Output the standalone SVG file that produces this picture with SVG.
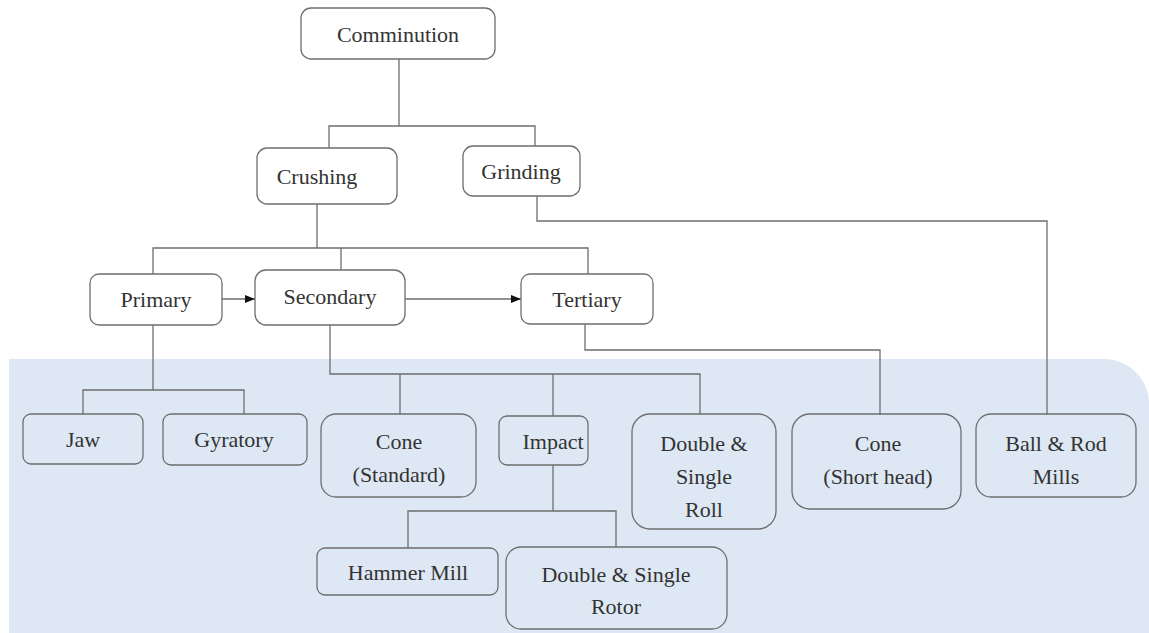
<svg xmlns="http://www.w3.org/2000/svg" width="1149" height="633" viewBox="0 0 1149 633">
<style>
.box{fill:#ffffff;stroke:#6e6e6e;stroke-width:1.3}
.lbox{fill:none;stroke:#6e6e6e;stroke-width:1.3}
.lbl{font-family:"Liberation Serif","DejaVu Serif",serif;font-size:22px;fill:#333333;text-anchor:middle}
.con{fill:none;stroke:#6e6e6e;stroke-width:1.3}
</style>
<defs>
<marker id="arr" viewBox="0 0 10 10" refX="10" refY="5" markerWidth="10" markerHeight="8" orient="auto" markerUnits="userSpaceOnUse" preserveAspectRatio="none">
<path d="M0,0 L10,5 L0,10 Z" fill="#111"/>
</marker>
</defs>
<rect width="1149" height="633" fill="#ffffff"/>
<path d="M9 359 H1104 A45 45 0 0 1 1149 404 V633 H9 Z" fill="#dee8f4"/>
<g id="connectors">
<path class="con" d="M399 59 V126 M329 148 V126 H535 V146"/>
<path class="con" d="M537 196 V221 H1047 V415"/>
<path class="con" d="M317 204 V248 M153 274 V248 H588 V274 M341 248 V270"/>
<path class="con" d="M222 299 H255" marker-end="url(#arr)"/>
<path class="con" d="M405 299 H521" marker-end="url(#arr)"/>
<path class="con" d="M585 324 V350 H880 V415"/>
<path class="con" d="M153 325 V390 M83 414 V390 H244 V414"/>
<path class="con" d="M330 325 V374 H700 V414 M400 374 V414 M553 374 V416"/>
<path class="con" d="M553 465 V511 M408 548 V511 H616 V547"/>
</g>
<g id="comminution"><rect class="box" x="301" y="8" width="194" height="51" rx="10"/><text class="lbl" x="398" y="42">Comminution</text></g>
<g id="crushing"><rect class="box" x="257" y="148" width="140" height="56" rx="10"/><text class="lbl" x="317" y="184">Crushing</text></g>
<g id="grinding"><rect class="box" x="463" y="146" width="117" height="50" rx="10"/><text class="lbl" x="521" y="179">Grinding</text></g>
<g id="primary"><rect class="box" x="90" y="274" width="132" height="51" rx="9"/><text class="lbl" x="156" y="307">Primary</text></g>
<g id="secondary"><rect class="box" x="255" y="270" width="150" height="55" rx="11"/><text class="lbl" x="330" y="304">Secondary</text></g>
<g id="tertiary"><rect class="box" x="521" y="274" width="132" height="50" rx="9"/><text class="lbl" x="587" y="307">Tertiary</text></g>
<g id="jaw"><rect class="lbox" x="23" y="414" width="120" height="50" rx="8"/><text class="lbl" x="83" y="447">Jaw</text></g>
<g id="gyratory"><rect class="lbox" x="163" y="414" width="144" height="51" rx="8"/><text class="lbl" x="234" y="447">Gyratory</text></g>
<g id="cone-standard"><rect class="lbox" x="321" y="414" width="155" height="83" rx="15"/><text class="lbl" x="399" y="449">Cone</text><text class="lbl" x="399" y="482">(Standard)</text></g>
<g id="impact"><rect class="lbox" x="499" y="416" width="89" height="49" rx="8"/><text class="lbl" x="553" y="449">Impact</text></g>
<g id="roll"><rect class="lbox" x="632" y="414" width="144" height="115" rx="18"/><text class="lbl" x="704" y="451">Double &amp;</text><text class="lbl" x="704" y="484">Single</text><text class="lbl" x="704" y="517">Roll</text></g>
<g id="cone-short"><rect class="lbox" x="792" y="414" width="169" height="95" rx="18"/><text class="lbl" x="878" y="451">Cone</text><text class="lbl" x="878" y="484">(Short head)</text></g>
<g id="ball-rod"><rect class="lbox" x="976" y="414" width="160" height="83" rx="15"/><text class="lbl" x="1056" y="451">Ball &amp; Rod</text><text class="lbl" x="1056" y="484">Mills</text></g>
<g id="hammer"><rect class="lbox" x="317" y="548" width="181" height="47" rx="8"/><text class="lbl" x="408" y="580">Hammer Mill</text></g>
<g id="rotor"><rect class="lbox" x="506" y="547" width="221" height="82" rx="15"/><text class="lbl" x="616" y="582">Double &amp; Single</text><text class="lbl" x="616" y="614">Rotor</text></g>
</svg>
